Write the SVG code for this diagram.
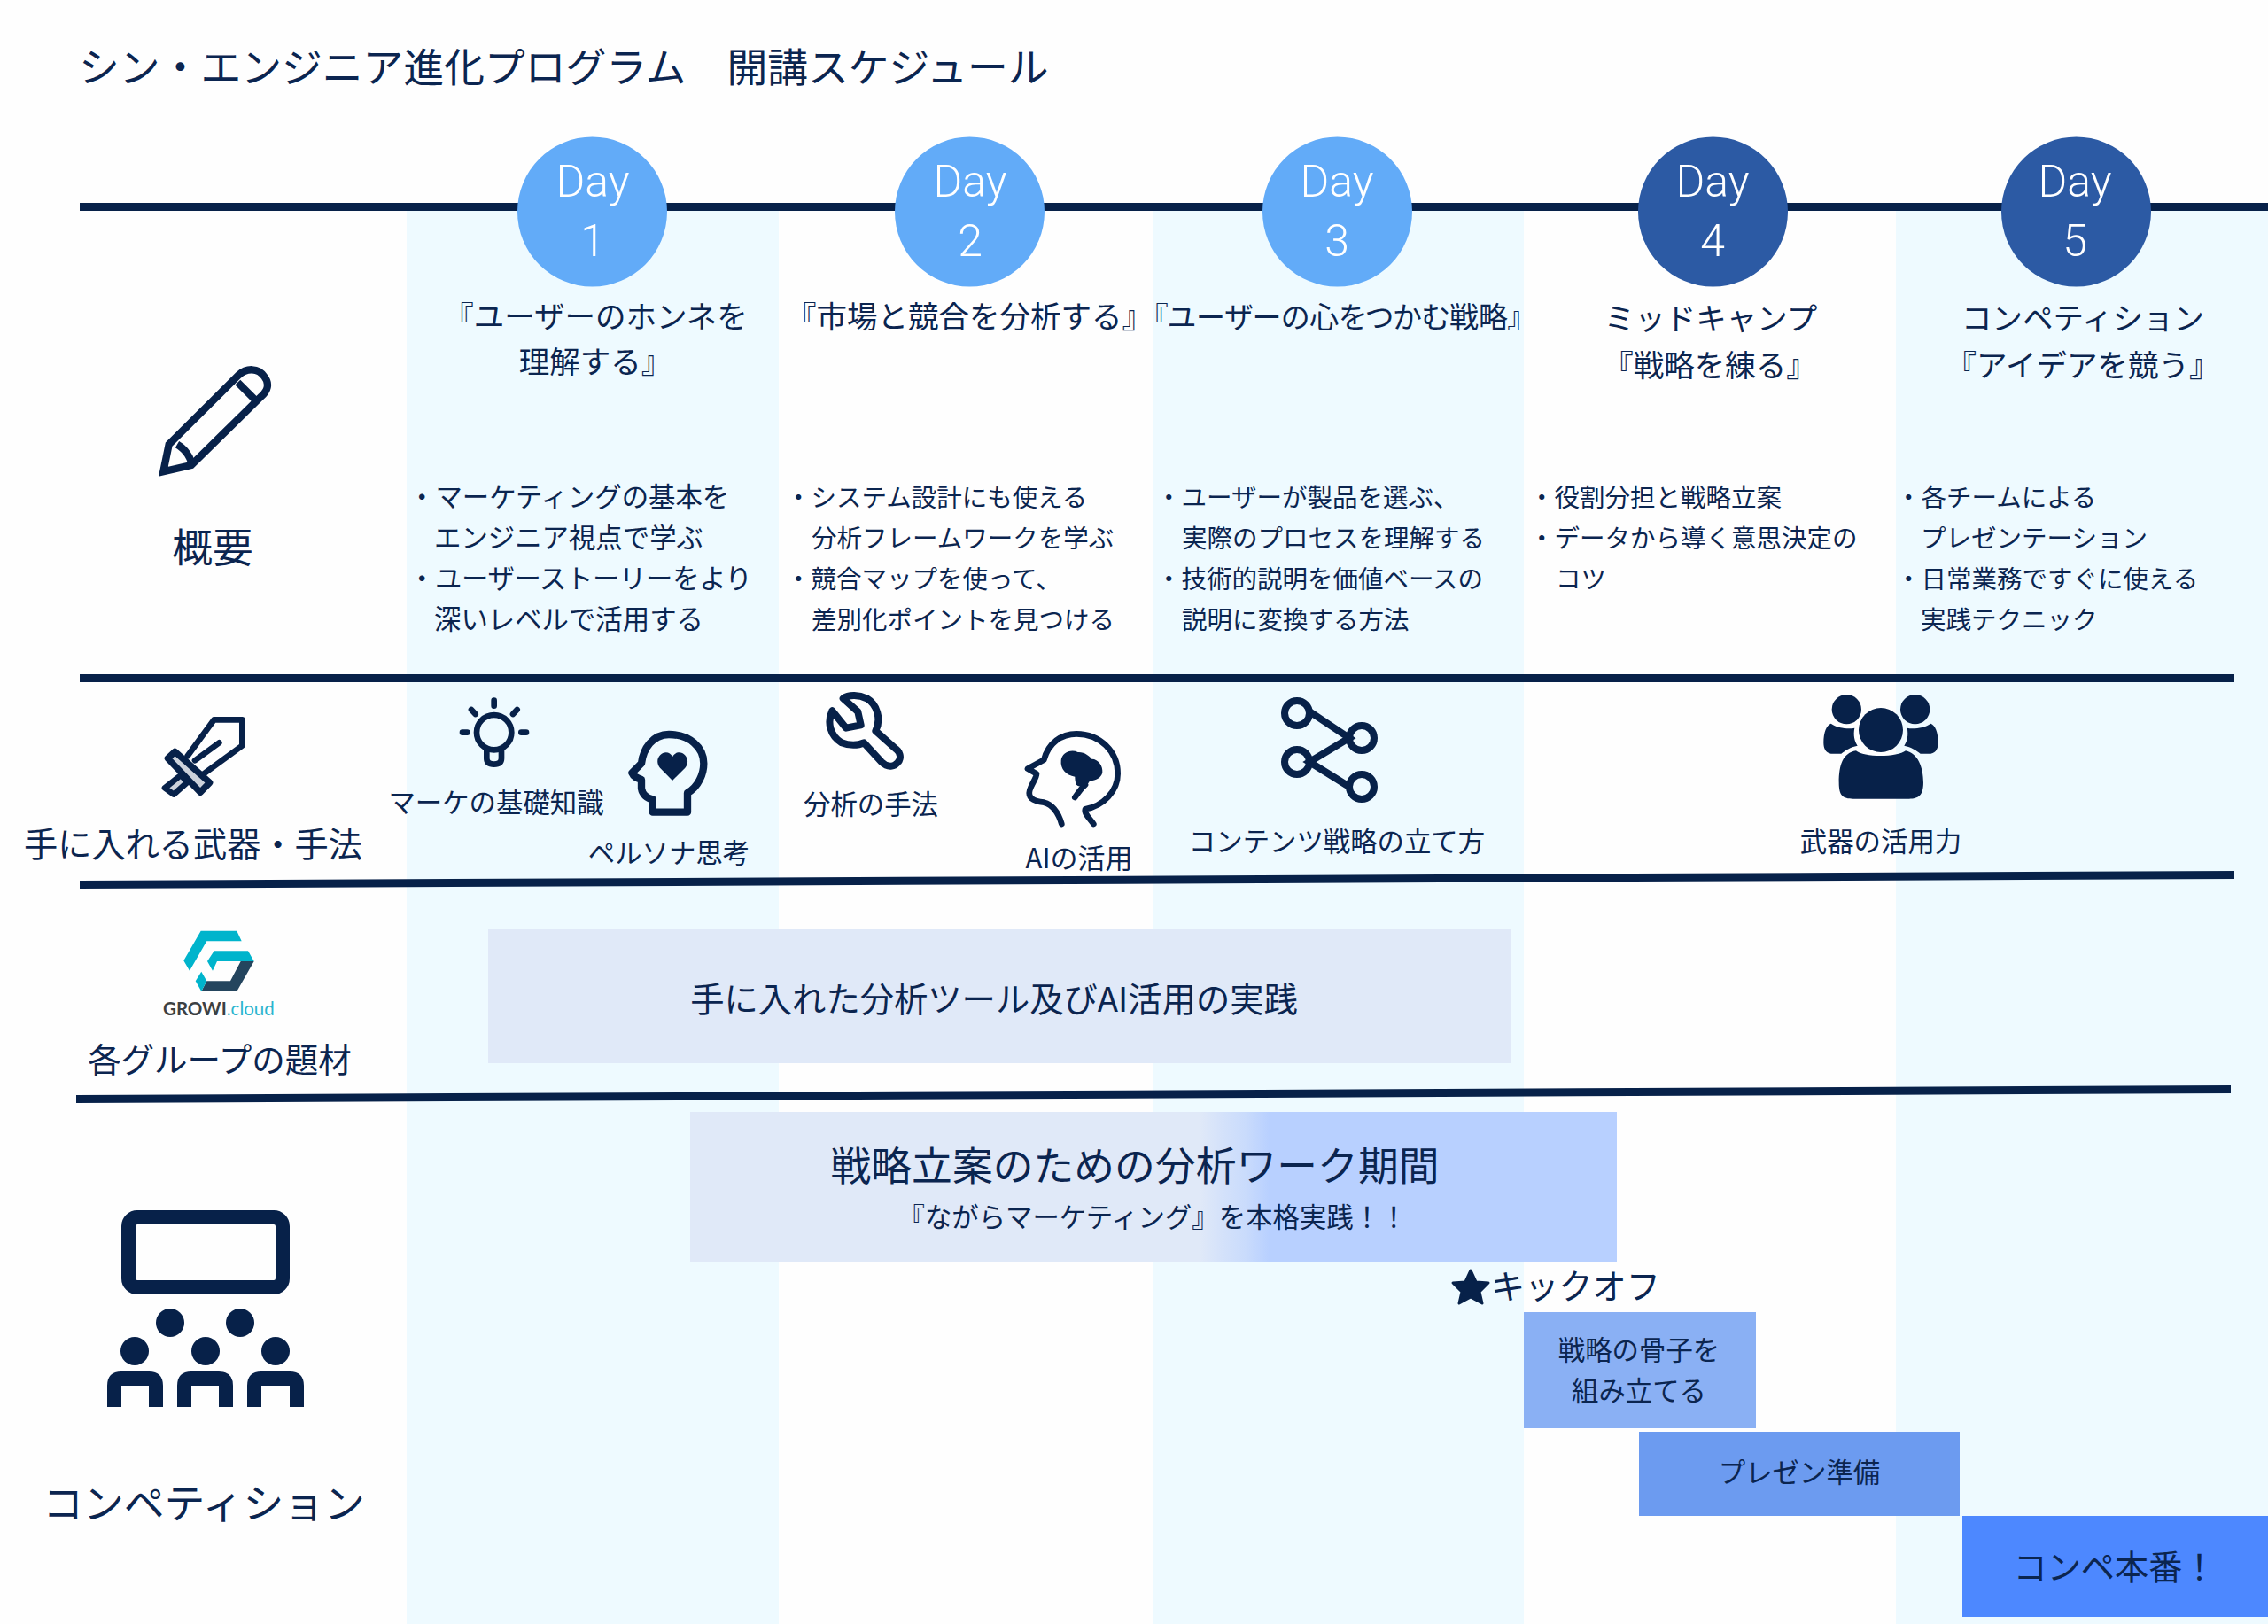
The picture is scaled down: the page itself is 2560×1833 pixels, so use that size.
<svg xmlns="http://www.w3.org/2000/svg" width="2560" height="1833" viewBox="0 0 2560 1833">
<style>
text{font-family:"Noto Sans CJK JP","Noto Sans",sans-serif;font-weight:400;fill:#0b2550}
.c{text-anchor:middle}
.s28{font-size:28.5px}.s30{font-size:30.4px}.s34{font-size:34.5px}.s38{font-size:38.2px}.s46{font-size:45.8px}
.day{font-family:Roboto,"Liberation Sans",sans-serif;font-size:50px;fill:#fff;text-anchor:middle;font-weight:300}
.col{fill:#eefaff}
.rule{fill:#072149}
.ic{fill:none;stroke:#072149;stroke-linejoin:round;stroke-linecap:round}
.fi{fill:#072149}
</style>
<defs>
<linearGradient id="g" gradientUnits="userSpaceOnUse" x1="779" y1="0" x2="1825" y2="0">
<stop offset="0.55" stop-color="#e0e9f8"/><stop offset="0.57" stop-color="#d6e3fa"/><stop offset="0.60" stop-color="#c9dbfc"/><stop offset="0.625" stop-color="#b8d0ff"/><stop offset="1" stop-color="#b8d0ff"/>
</linearGradient>
</defs>
<rect width="2560" height="1833" fill="#fefefe"/>
<g id="columns">
<rect class="col" x="459" y="238" width="420" height="1595"/>
<rect class="col" x="1302" y="238" width="418" height="1595"/>
<rect class="col" x="2140" y="238" width="420" height="1595"/>
</g>
<text id="title" class="s46" x="89" y="93">シン・エンジニア進化プログラム　開講スケジュール</text>
<g id="connectors">
<rect class="rule" x="90" y="229" width="2470" height="9"/>
<rect class="rule" x="90" y="761" width="2432" height="9"/>
<polygon class="rule" points="90,994 2522,983 2522,992 90,1003"/>
<polygon class="rule" points="86,1236 2518,1225 2518,1234 86,1245"/>
</g>
<g id="day1"><circle cx="668.500" cy="239" r="84.500" fill="#62abf8"/><text class="day" x="669" y="222">Day</text><text class="day" x="669" y="289">1</text>
<text class="s34 c" x="672" y="370">『ユーザーのホンネを</text><text class="s34 c" x="672" y="421">理解する』</text>
<text class="s30" x="461" y="572">・マーケティングの基本を</text><text class="s30" x="490" y="618">エンジニア視点で学ぶ</text><text class="s30" x="461" y="664" textLength="388">・ユーザーストーリーをより</text><text class="s30" x="490" y="710">深いレベルで活用する</text></g>
<g id="day2"><circle cx="1094.500" cy="239" r="84.500" fill="#62abf8"/><text class="day" x="1095" y="222">Day</text><text class="day" x="1095" y="289">2</text>
<text class="s34 c" x="1094" y="370">『市場と競合を分析する』</text>
<text class="s28" x="887" y="572">・システム設計にも使える</text><text class="s28" x="916" y="618">分析フレームワークを学ぶ</text><text class="s28" x="887" y="664">・競合マップを使って、</text><text class="s28" x="916" y="710">差別化ポイントを見つける</text></g>
<g id="day3"><circle cx="1509.500" cy="239" r="84.500" fill="#62abf8"/><text class="day" x="1509" y="222">Day</text><text class="day" x="1509" y="289">3</text>
<text class="c" style="font-size:33px;font-feature-settings:'palt'" x="1510" y="370">『ユーザーの心をつかむ戦略』</text>
<text class="s28" x="1305" y="572">・ユーザーが製品を選ぶ、</text><text class="s28" x="1334" y="618">実際のプロセスを理解する</text><text class="s28" x="1305" y="664">・技術的説明を価値ベースの</text><text class="s28" x="1334" y="710">説明に変換する方法</text></g>
<g id="day4"><circle cx="1933.500" cy="239" r="84.500" fill="#2c5aa4"/><text class="day" x="1933" y="222">Day</text><text class="day" x="1933" y="289">4</text>
<text class="s34 c" x="1931" y="372">ミッドキャンプ</text><text class="s34 c" x="1930" y="425">『戦略を練る』</text>
<text class="s28" x="1726" y="572">・役割分担と戦略立案</text><text class="s28" x="1726" y="618">・データから導く意思決定の</text><text class="s28" x="1756" y="664">コツ</text></g>
<g id="day5"><circle cx="2343.500" cy="239" r="84.500" fill="#2c5aa4"/><text class="day" x="2342" y="222">Day</text><text class="day" x="2342" y="289">5</text>
<text class="s34 c" x="2351" y="372">コンペティション</text><text class="s34 c" x="2351" y="425">『アイデアを競う』</text>
<text class="s28" x="2140" y="572">・各チームによる</text><text class="s28" x="2168" y="618">プレゼンテーション</text><text class="s28" x="2140" y="664">・日常業務ですぐに使える</text><text class="s28" x="2168" y="710">実践テクニック</text></g>
<g id="overview">
<g transform="translate(150,390) scale(.3333)" class="ic" style="stroke-width:25">
<path d="M103 427L122 335L358 100C385 75 425 75 445 105C465 130 455 155 435 172L198 405Z" stroke-linejoin="miter"/><path d="M355 125L412 182M150 335C175 350 190 370 198 395" stroke-linecap="butt"/>
</g>
<text class="s46 c" x="240" y="635">概要</text>
</g>
<g id="weapons">
<g transform="translate(170,800) scale(.3333)">
<path class="ic" style="stroke-width:20" d="M125 160L215 37H310V125L180 220M150 175L232 115"/>
<path d="M102 225L125 248L78 290L48 268Z" fill="#ccd2dc" stroke="#072149" stroke-width="20" stroke-linejoin="round"/>
<path d="M82 145L58 168L168 283L200 250Z" fill="#ccd2dc" stroke="#072149" stroke-width="22" stroke-linejoin="round"/>
</g>
<text class="s38 c" x="218" y="967">手に入れる武器・手法</text>
</g>
<g id="bulb"><g transform="translate(510,780) scale(.3333)" class="ic" style="stroke-width:20">
<circle cx="143" cy="140" r="59"/><path d="M118 195V228Q118 248 143 248Q168 248 168 228V195M143 32V50M66 63L80 78M221 63L207 78M36 140H52M235 140H252"/>
</g><text class="s30 c" x="560" y="917">マーケの基礎知識</text></g>
<g id="persona"><g transform="translate(700,815) scale(.3333)">
<path class="ic" style="stroke-width:25" stroke-linejoin="miter" d="M110 305H228V240C265 220 283 175 283 140C283 85 235 42 165 42C110 42 78 90 72 140L40 172C45 185 58 190 72 195V225C75 245 90 258 110 262Z"/>
<path class="fi" d="M177 198L135 155C115 130 135 103 155 103C165 103 172 108 177 118C182 108 190 103 200 103C220 103 240 130 220 155Z"/>
</g><text class="s30 c" x="755" y="974">ペルソナ思考</text></g>
<g id="wrench"><g transform="translate(920,775) scale(.3333)">
<path class="ic" style="stroke-width:24" d="M95 40L145 85L155 130L105 140L58 82C40 120 50 165 90 190C115 200 145 200 165 190L225 255C245 275 270 275 285 250C292 235 285 220 275 212L205 150C225 110 210 60 175 40C150 28 115 25 95 40Z"/>
</g><text class="s30 c" x="983" y="919">分析の手法</text></g>
<g id="ai"><g transform="translate(1145,815) scale(.3333)">
<path class="ic" style="stroke-width:20" d="M160 345C150 310 130 280 100 272C60 268 45 255 52 230C60 205 75 190 75 175L45 158L100 128C115 70 160 40 210 40C290 40 350 100 350 175C350 235 300 285 240 295C235 310 255 325 268 345M205 255C215 240 225 225 240 212"/>
<path class="fi" d="M158 130C160 105 190 90 215 102C235 100 255 115 262 125C285 125 300 150 298 170C295 190 270 200 255 198C250 215 225 225 210 212C205 200 205 190 205 185C175 180 155 160 158 130Z"/>
</g><text class="c" style="font-size:31px" x="1218" y="980">AIの活用</text></g>
<g id="share"><g class="ic" style="stroke-width:8">
<circle cx="1464" cy="805" r="14"/><circle cx="1537" cy="833" r="14"/><circle cx="1464" cy="860" r="14"/><circle cx="1537" cy="888" r="14"/>
<path d="M1478 803L1523 833L1478 860L1523 888" stroke-linecap="butt" stroke-linejoin="miter"/>
</g><text class="s30 c" x="1509" y="961">コンテンツ戦略の立て方</text></g>
<g id="people"><g transform="translate(2045,770) scale(.3333)" class="fi">
<circle cx="118" cy="92" r="50"/><circle cx="350" cy="92" r="50"/><circle cx="234" cy="162" r="75"/>
<path d="M92 340C92 280 105 240 150 232C175 255 290 255 318 232C360 240 378 290 378 340C378 385 360 395 330 395H140C105 395 92 385 92 340Z"/>
<path d="M65 140C85 155 125 160 145 155C140 180 145 200 155 215C130 220 115 230 100 242H65C45 240 40 220 40 205C40 170 50 145 65 140Z"/>
<path d="M403 140C383 155 343 160 323 155C328 180 323 200 313 215C338 220 353 230 368 242H403C423 240 428 220 428 205C428 170 418 145 403 140Z"/>
</g><text class="s30 c" x="2123" y="961">武器の活用力</text></g>
<g id="growi">
<polygon fill="#00b4cc" points="226.700,1050.700 267.300,1050.700 272.700,1062.300 233.300,1062.300 214,1095.700 207.300,1084.300"/>
<polygon fill="#00b4cc" points="241.700,1073.300 280,1073.300 286.700,1085 245,1085 240,1095.700 234,1085"/>
<polygon fill="#24455e" points="286.700,1085 267.300,1119 227.300,1119 233.300,1107.300 260,1107.300 271.700,1085"/>
<polygon fill="#00b4cc" points="227.300,1096.700 233.300,1107.300 227.300,1119 220.700,1107.300"/>
<text x="184" y="1146" style="font-family:Lato,sans-serif;font-size:20.500px;font-weight:700;fill:#3c4043">GROWI<tspan style="fill:#2bb5cf;font-weight:400">.cloud</tspan></text>
<text class="c" style="font-size:37.500px" x="248" y="1210">各グループの題材</text>
</g>
<g id="tools-bar"><rect x="551" y="1048" width="1154" height="152" fill="#e0e9f8"/><text class="c" x="1122" y="1142" style="font-size:38.300px">手に入れた分析ツール及びAI活用の実践</text></g>
<g id="analysis-bar"><rect x="779" y="1255" width="1046" height="169" fill="url(#g)"/><text class="s46 c" x="1281" y="1333">戦略立案のための分析ワーク期間</text><text class="s30 c" x="1301" y="1385">『ながらマーケティング』を本格実践！！</text></g>
<g id="kickoff"><polygon class="fi" stroke="#072149" stroke-width="3" stroke-linejoin="round" points="1660,1434 1666,1447 1680,1448 1670,1458 1673,1471 1660,1464 1647,1471 1650,1458 1640,1448 1654,1447"/><text class="s38" x="1683" y="1466">キックオフ</text></g>
<g id="skeleton"><rect x="1720" y="1481" width="262" height="131" fill="#8ab0f4"/><text class="s30 c" x="1850" y="1535">戦略の骨子を</text><text class="s30 c" x="1850" y="1581">組み立てる</text></g>
<g id="prep"><rect x="1850" y="1616" width="362" height="95" fill="#6c9bf0"/><text class="s30 c" x="2031" y="1673">プレゼン準備</text></g>
<g id="final"><rect x="2215" y="1711" width="345" height="114" fill="#4d88ff"/><text class="s38 c" x="2387" y="1783">コンペ本番！</text></g>
<g id="competition">
<rect class="ic" x="145" y="1374" width="174" height="79" rx="10" style="stroke-width:16"/>
<g class="fi"><circle cx="192" cy="1493" r="16"/><circle cx="271" cy="1493" r="16"/><circle cx="152" cy="1525" r="16"/><circle cx="232" cy="1525" r="16"/><circle cx="311" cy="1525" r="16"/>
<path d="M121 1588V1564Q121 1548 137 1548H168Q184 1548 184 1564V1588H168V1564H137V1588Z"/>
<path d="M200 1588V1564Q200 1548 216 1548H247Q263 1548 263 1564V1588H247V1564H216V1588Z"/>
<path d="M279 1588V1564Q279 1548 295 1548H327Q343 1548 343 1564V1588H327V1564H295V1588Z"/></g>
<text class="s46 c" x="230" y="1714">コンペティション</text>
</g>
</svg>
